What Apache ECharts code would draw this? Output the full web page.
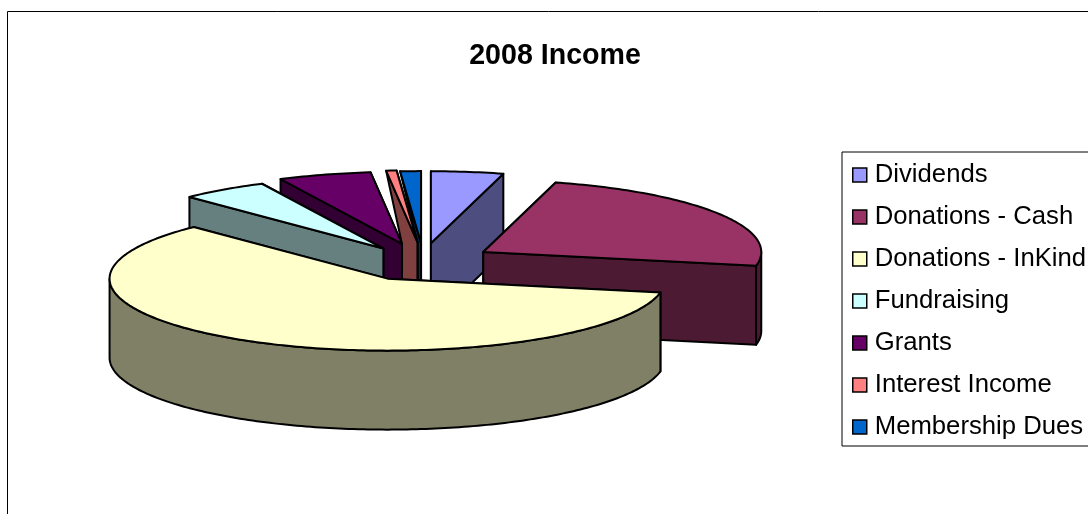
<!DOCTYPE html>
<html>
<head>
<meta charset="utf-8">
<style>
  html, body { margin: 0; padding: 0; background: #fff; overflow: hidden; }
  #chart { width: 1088px; height: 514px; }
</style>
<script src="https://cdn.jsdelivr.net/npm/echarts@6/dist/echarts.min.js"></script>
</head>
<body>
<div id="chart"></div>
<script>
// valores (% aprox.)
const categories = ['Dividends', 'Donations - Cash', 'Donations - InKind', 'Fundraising', 'Grants', 'Interest Income', 'Membership Dues']
const values     = [4.2, 23.9, 59.7, 5.1, 5.4, 0.6, 1.2]
const topColors  = ['#9999FF', '#993366', '#FFFFCC', '#CCFFFF', '#660066', '#FF8080', '#0066CC']
const sideColors = ['#4D4D80', '#4D1A33', '#808066', '#668080', '#330033', '#804040', '#003366']
// orden de pintado, de atrás hacia adelante
const drawOrder  = [6, 5, 4, 3, 0, 1, 2]

// proyección de la torta 3D
const CX = 421.3, CY = 262, RX = 278, RY = 72, DEPTH = 79, EXPLODE = 73
const TILT = RY / RX
const THIN_SLICE = 2
// ajuste fino por porción: la perspectiva del original corre algo las de atrás
const nudgeX = [0, 0, 1, 4, 1, 3, 2.5]
const nudgeY = [0, 0, 0, 2, 0, -1, 0]

const total = values.reduce((s, v) => s + v, 0)
const rad = d => d * Math.PI / 180

let acc = 0
const slices = values.map((v, i) => {
  const start = acc / total * 360
  acc += v
  const end = acc / total * 360
  const mid = rad((start + end) / 2)
  return {
    start, end, share: v / total * 100,
    ax: CX + EXPLODE * Math.sin(mid) + nudgeX[i],
    ay: CY - EXPLODE * TILT * Math.cos(mid) + nudgeY[i],
  }
})

const rimPoint = (s, deg) => [s.ax + RX * Math.sin(rad(deg)), s.ay - RY * Math.cos(rad(deg))]

function poly(points, fill) {
  return { type: 'polygon', shape: { points }, style: { fill, stroke: '#000', lineWidth: 2, lineJoin: 'round' } }
}

function arc(s, from, to) {
  const pts = []
  for (let d = from; d < to; d += 1) pts.push(rimPoint(s, d))
  pts.push(rimPoint(s, to))
  return pts
}

const drop = ([x, y]) => [x, y + DEPTH]

function cutFace(i, deg) {
  const s = slices[i]
  const apex = [s.ax, s.ay]
  const rim  = rimPoint(s, deg)
  // las porciones muy finas solo asoman hasta el vértice de la vecina
  if (s.share < THIN_SLICE && i > 0) {
    const prev = [slices[i - 1].ax, slices[i - 1].ay]
    return poly([rim, apex, drop(apex), drop(prev), prev], sideColors[i])
  }
  return poly([apex, rim, drop(rim), drop(apex)], sideColors[i])
}

function sliceGroup(i) {
  const s = slices[i]
  const hidden = [], visible = []
  const startFace = cutFace(i, s.start)
  const endFace   = cutFace(i, s.end)
  ;(Math.sin(rad(s.start)) < -1e-6 ? visible : hidden).push(startFace)
  ;(Math.sin(rad(s.end)) > 1e-6 ? visible : hidden).push(endFace)

  const children = [...hidden, ...visible]
  const wallFrom = Math.max(s.start, 90), wallTo = Math.min(s.end, 270)
  if (wallTo > wallFrom) {
    const rim = arc(s, wallFrom, wallTo)
    children.push(poly([...rim, ...rim.map(drop).reverse()], sideColors[i]))
  }
  children.push(poly([[s.ax, s.ay], ...arc(s, s.start, s.end)], topColors[i]))
  return { type: 'group', children }
}

const series = categories.map((name, i) => ({
  name,
  type: 'custom',
  coordinateSystem: 'none',
  silent: true,
  z: 2 + drawOrder.indexOf(i),
  itemStyle: { color: topColors[i] },
  data: [[values[i]]],
  renderItem: () => sliceGroup(i),
}))

const chart = echarts.init(document.getElementById('chart'), null, { renderer: 'canvas' })
chart.setOption({
  animation: false,
  backgroundColor: '#fff',
  title: {
    text: '2008 Income',
    left: 550, top: 37, textAlign: 'center',
    textStyle: { fontFamily: 'Liberation Sans', fontSize: 28.6, fontWeight: 'bold', color: '#000' },
  },
  graphic: [{
    type: 'rect', z: 0, silent: true,
    shape: { x: 7.5, y: 11.5, width: 1200, height: 700 },
    style: { fill: 'transparent', stroke: '#000', lineWidth: 1 },
  }],
  legend: {
    orient: 'vertical',
    left: 842, top: 152,
    padding: [9, 10, 5, 10],
    data: categories,
    icon: 'rect',
    itemWidth: 14, itemHeight: 14, itemGap: 14,
    selectedMode: false,
    backgroundColor: '#fff',
    borderColor: '#000', borderWidth: 1,
    itemStyle: { borderColor: '#000', borderWidth: 1.5 },
    textStyle: { fontFamily: 'Liberation Sans', fontSize: 25.7, lineHeight: 28, color: '#000', padding: [0, 0, 0, 3] },
  },
  series,
})
</script>
</body>
</html>
